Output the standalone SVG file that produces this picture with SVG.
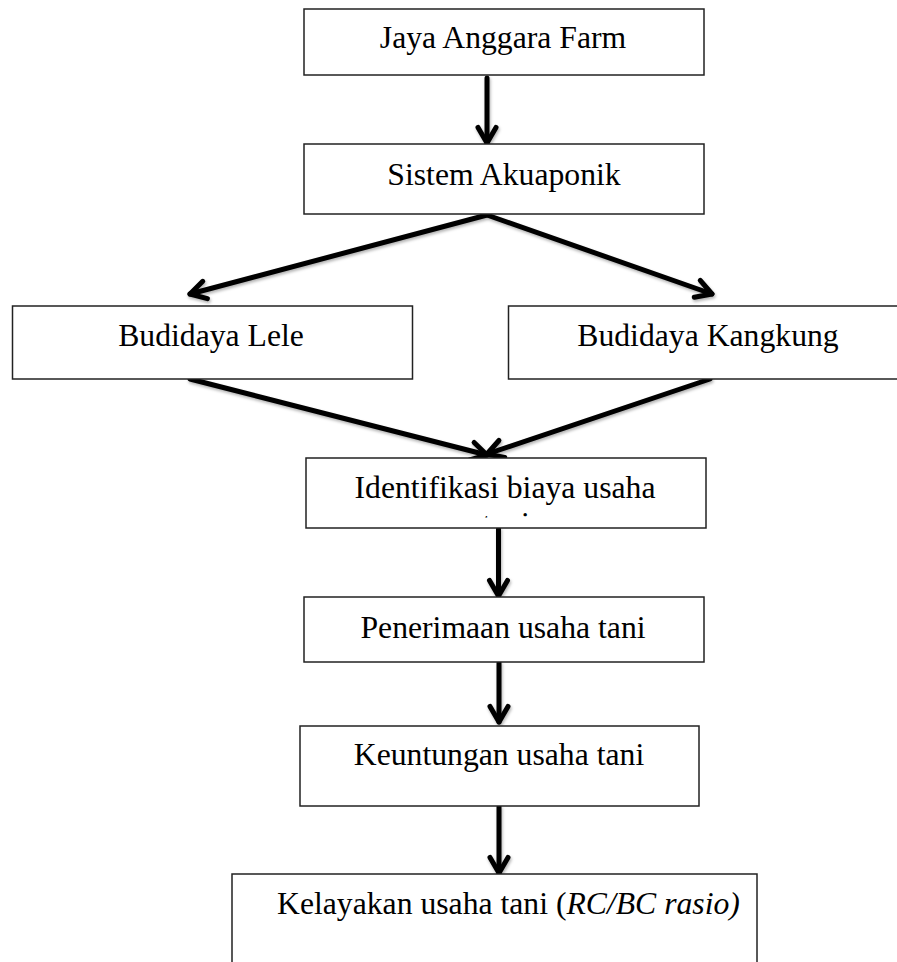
<svg xmlns="http://www.w3.org/2000/svg" width="897" height="962" viewBox="0 0 897 962">
  <style>
    .box { fill: #ffffff; stroke: #222222; stroke-width: 1.5; }
    .lbl { font-family: "Liberation Serif", "Times New Roman", serif; font-size: 31.7px; fill: #000000; }
    .mid { text-anchor: middle; }
    .conn { fill: none; stroke: #000000; stroke-width: 5; stroke-linecap: round; marker-end: url(#head); }
  </style>
  <defs>
    <marker id="head" markerUnits="userSpaceOnUse" markerWidth="40" markerHeight="40" refX="0" refY="0" viewBox="-22 -20 30 40" orient="auto" overflow="visible">
      <path d="M -15.6 -9 L 0 0 L -15.6 9" fill="none" stroke="#000000" stroke-width="5" stroke-linecap="round" stroke-linejoin="round"/>
    </marker>
    <filter id="shadow" x="-10%" y="-10%" width="120%" height="120%">
      <feDropShadow dx="1" dy="2" stdDeviation="1.5" flood-color="#000000" flood-opacity="0.3"/>
    </filter>
    <clipPath id="clipTani">
      <rect x="306" y="500" width="400" height="17.5"/>
    </clipPath>
  </defs>

  <rect width="897" height="962" fill="#ffffff"/>

  <g id="connectors" filter="url(#shadow)">
    <line class="conn" x1="487" y1="78" x2="487" y2="143"/>
    <line class="conn" x1="487" y1="215" x2="190" y2="294"/>
    <line class="conn" x1="487" y1="215" x2="712" y2="294"/>
    <line class="conn" x1="190" y1="379" x2="487" y2="455"/>
    <line class="conn" x1="710" y1="379" x2="487" y2="454"/>
    <line class="conn" x1="498.5" y1="529" x2="498.5" y2="596"/>
    <line class="conn" x1="499" y1="663" x2="499" y2="722"/>
    <line class="conn" x1="499" y1="807" x2="499" y2="873"/>
  </g>

  <g id="node-jaya">
    <rect class="box" x="304" y="9" width="400" height="66"/>
    <text class="lbl mid" x="503" y="48">Jaya Anggara Farm</text>
  </g>

  <g id="node-sistem">
    <rect class="box" x="304" y="144" width="400" height="70"/>
    <text class="lbl mid" x="504" y="185">Sistem Akuaponik</text>
  </g>

  <g id="node-lele">
    <rect class="box" x="12.5" y="306" width="400" height="73"/>
    <text class="lbl mid" x="211" y="346">Budidaya Lele</text>
  </g>

  <g id="node-kangkung">
    <rect class="box" x="508.5" y="306" width="400" height="73"/>
    <text class="lbl mid" x="708" y="346">Budidaya Kangkung</text>
  </g>

  <g id="node-identifikasi">
    <rect class="box" x="306" y="458" width="400" height="70"/>
    <text class="lbl mid" x="505" y="498">Identifikasi biaya usaha</text>
    <text class="lbl mid" x="506" y="534" clip-path="url(#clipTani)">tani</text>
  </g>

  <g id="node-penerimaan">
    <rect class="box" x="304" y="597" width="400" height="65"/>
    <text class="lbl mid" x="503" y="638">Penerimaan usaha tani</text>
  </g>

  <g id="node-keuntungan">
    <rect class="box" x="300" y="726" width="399" height="80"/>
    <text class="lbl mid" x="499" y="765">Keuntungan usaha tani</text>
  </g>

  <g id="node-kelayakan">
    <rect class="box" x="232" y="874" width="525" height="100"/>
    <text class="lbl" x="277" y="914">Kelayakan usaha tani (<tspan font-style="italic">RC/BC rasio)</tspan></text>
  </g>
</svg>
